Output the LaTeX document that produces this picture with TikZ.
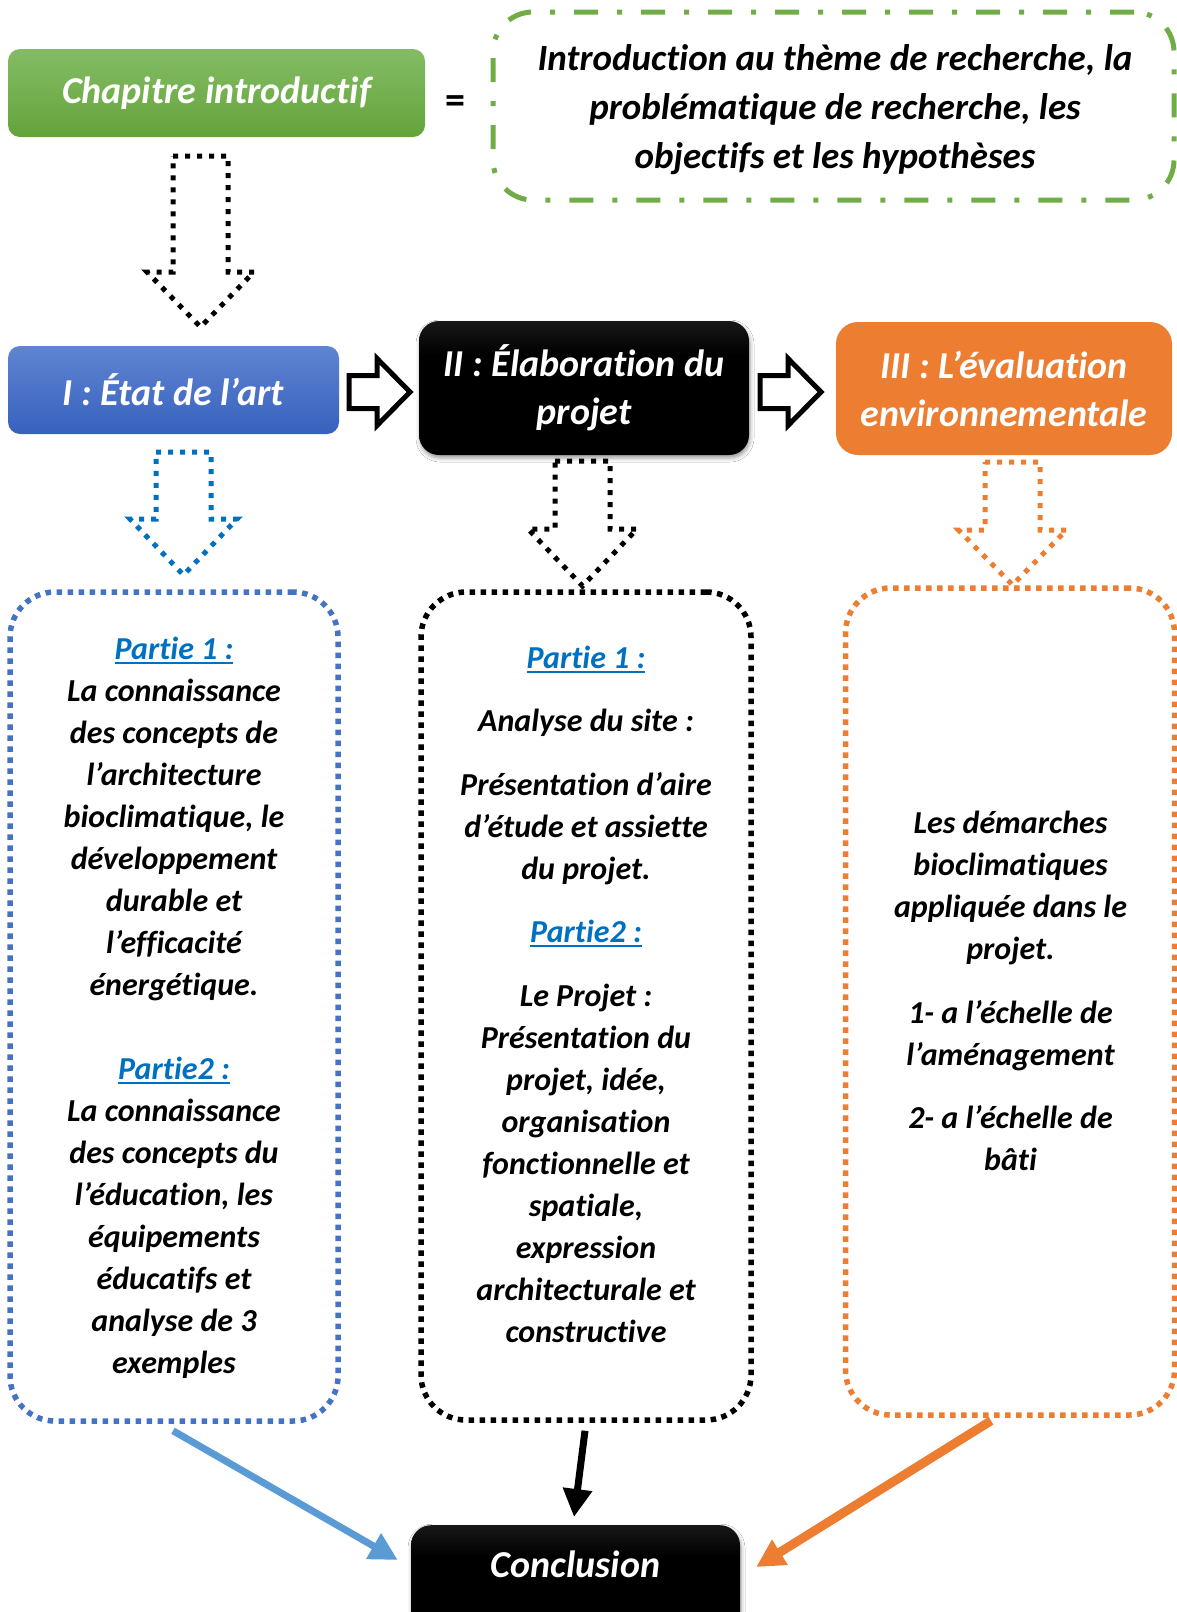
\documentclass[tikz,border=0pt]{standalone}
\usepackage{fontspec}
\setmainfont{Carlito}[Ligatures=NoCommon, RawFeature=-calt]
\usetikzlibrary{calc,arrows.meta,shadows.blur}
\definecolor{grnline}{HTML}{70AD47}
\definecolor{grntop}{HTML}{84BC66}
\definecolor{grnbot}{HTML}{64A43A}
\definecolor{blutop}{HTML}{5F84D1}
\definecolor{blubot}{HTML}{3761BE}
\definecolor{bluline}{HTML}{4472C4}
\definecolor{linkblue}{HTML}{0070C0}
\definecolor{orng}{HTML}{ED7D31}
\definecolor{skyarrow}{HTML}{5B9BD5}
\definecolor{darktop}{HTML}{454545}
\pgfdeclareverticalshading{blacktop}{100bp}{color(0bp)=(black); color(62bp)=(black); color(100bp)=(darktop)}
% blue underlined heading inside the frames
\newsavebox{\lnkbox}
\newcommand{\lnk}[1]{{\color{linkblue}\sbox{\lnkbox}{#1}\rlap{\rule[-4.5pt]{\wd\lnkbox}{2pt}}\usebox{\lnkbox}}}
% hollow block arrow pointing down: x, top, shoulder, tip, half shaft, half head, style
\newcommand{\blockdown}[7]{%
  \draw[#7] (#1-#5,#2) -- (#1+#5,#2) -- (#1+#5,#3) -- (#1+#6,#3) -- (#1,#4)
    -- (#1-#6,#3) -- (#1-#5,#3) -- cycle;}
% hollow block arrow pointing right: left, head base, tip, y, half shaft, half head
\newcommand{\blockright}[6]{%
  \draw[line width=5pt, fill=white, line join=miter] (#1,#4-#5) -- (#2,#4-#5) -- (#2,#4-#6) -- (#3,#4)
    -- (#2,#4+#6) -- (#2,#4+#5) -- (#1,#4+#5) -- cycle;}
\begin{document}
\begin{tikzpicture}[x=1pt,y=-1pt,
  hdr/.style={text=white, align=center, inner sep=0pt,
    font=\fontsize{38}{48}\selectfont\bfseries\itshape},
  darkshadow/.style={blur shadow={shadow xshift=1pt, shadow yshift=-3pt,
    shadow blur radius=4pt, shadow opacity=40}},
  bodytext/.style={align=center, inner sep=0pt,
    font=\fontsize{32}{42}\selectfont\bfseries\itshape},
  dotbox/.style={line width=5.5pt, dash pattern=on 5.5pt off 5.5pt,
    rounded corners=45pt},
  dotarrow/.style={line width=5pt, dash pattern=on 5pt off 7pt, fill=white},
  flow/.style={line width=8pt, -{Triangle[length=28pt,width=28pt]}}
]
\fill[white] (0,0) rectangle (1177,1612);
\useasboundingbox (0,0) rectangle (1177,1612);

% top row: introductory chapter and its summary
\node[hdr, rounded corners=12pt, top color=grntop, bottom color=grnbot,
  minimum width=417pt, minimum height=88pt] (chap) at (216.5,93) {Chapitre introductif};
\node[font=\fontsize{40}{44}\selectfont\bfseries] (eq) at (455,105) {=};
\node[draw=grnline, line width=5pt, dash pattern=on 24pt off 19pt on 5pt off 19pt,
  rounded corners=40pt, minimum width=681pt, minimum height=188pt] (intro) at (833.5,106) {};
\node[align=center, inner sep=0pt,
  font=\fontsize{37}{49}\selectfont\bfseries\itshape] (introtxt) at (835,110)
  {Introduction au thème de recherche, la\\ problématique de recherche, les\\ objectifs et les hypothèses};

\blockdown{200.5}{156}{272}{327}{27.5}{53.5}{dotarrow, draw=black}

% the three parts
\node[hdr, rounded corners=12pt, top color=blutop, bottom color=blubot,
  minimum width=331pt, minimum height=88pt] (etat) at (173.5,390) {I : État de l’art};
\node[hdr, rounded corners=20pt, shading=blacktop, darkshadow,
  minimum width=330pt, minimum height=134pt] (elab) at (584,388) {II : Élaboration du\\ projet};
\node[hdr, rounded corners=22pt, fill=orng,
  minimum width=336pt, minimum height=133pt] (evalu) at (1004,388.5) {III : L’évaluation\\ environnementale};

\blockright{349}{377}{410}{392}{16.5}{33.5}
\blockright{760}{788}{821}{392}{16.5}{33.5}

\blockdown{183.5}{452}{519}{575}{27.5}{53.5}{dotarrow, draw=linkblue}
\blockdown{582.5}{461}{529}{586}{27.5}{54.5}{dotarrow, draw=black}
\blockdown{1012.5}{462}{530}{585}{27.5}{54}{dotarrow, draw=orng}

% content frames
\node[dotbox, draw=bluline, minimum width=328pt, minimum height=829pt] (bluebox) at (174,1006.5) {};
\node[dotbox, draw=black, minimum width=330pt, minimum height=828pt] (blackbox) at (586,1006) {};
\node[dotbox, draw=orng, minimum width=329pt, minimum height=827pt] (orngbox) at (1010,1001.5) {};

\node[bodytext] (bluetxt) at (174,1008) {\lnk{Partie 1 :}\\ La connaissance\\ des concepts de\\
  l’architecture\\ bioclimatique, le\\ développement\\ durable et\\ l’efficacité\\ énergétique.\\[42pt]
  \lnk{Partie2 :}\\ La connaissance\\ des concepts du\\ l’éducation, les\\ équipements\\
  éducatifs et\\ analyse de 3\\ exemples};

\node[bodytext] (blacktxt) at (586,994) {\lnk{Partie 1 :}\\[21.5pt] Analyse du site :\\[21.5pt]
  Présentation d’aire\\ d’étude et assiette\\ du projet.\\[21.5pt] \lnk{Partie2 :}\\[21.5pt]
  Le Projet :\\ Présentation du\\ projet, idée,\\ organisation\\ fonctionnelle et\\ spatiale,\\
  expression\\ architecturale et\\ constructive};

\node[bodytext] (orngtxt) at (1010.5,991) {Les démarches\\ bioclimatiques\\ appliquée dans le\\ projet.\\[21.5pt]
  1- a l’échelle de\\ l’aménagement\\[21.5pt] 2- a l’échelle de\\ bâti};

% conclusion
\node[hdr, rounded corners=20pt, shading=blacktop, darkshadow, anchor=north,
  minimum width=329pt, inner ysep=0pt, text height=52pt, text depth=70pt] (concl) at (575.5,1525) {Conclusion};

\draw[flow, draw=skyarrow, fill=skyarrow, line width=7pt]
  ($(bluebox.south)+(-1,7)$) -- ($(concl.north west)+(-13,35)$);
\draw[flow, draw=black, fill=black, line width=7pt]
  ($(blackbox.south)+(-1,8)$) -- ($(concl.north)+(-1.5,-8)$);
\draw[flow, draw=orng, fill=orng, line width=9pt]
  ($(orngbox.south)+(-19,3)$) -- ($(concl.north east)+(16,42)$);
\end{tikzpicture}
\end{document}
